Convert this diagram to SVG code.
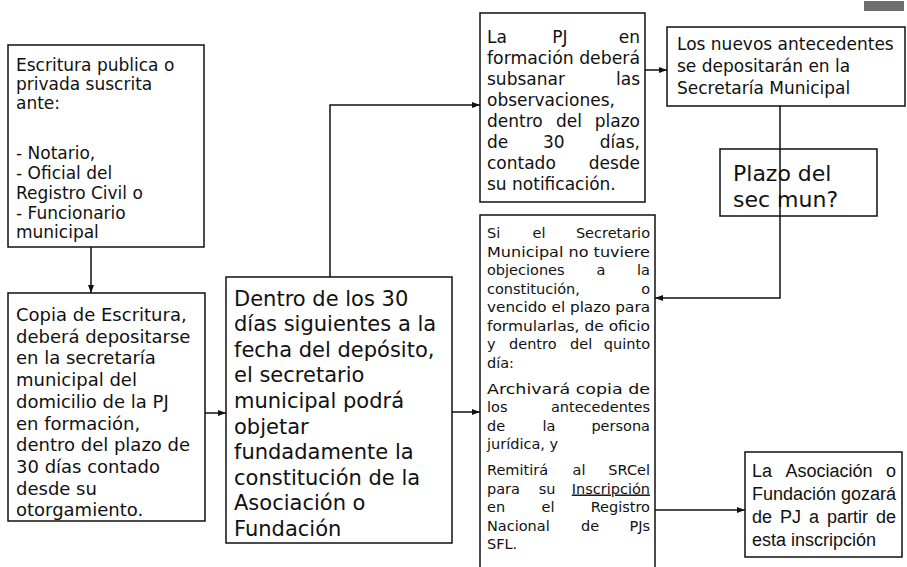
<svg xmlns="http://www.w3.org/2000/svg" width="907" height="567" viewBox="0 0 907 567">
<defs>
<marker id="ah" viewBox="0 0 8 6" refX="8" refY="3" markerWidth="8" markerHeight="6" markerUnits="userSpaceOnUse" orient="auto">
<path d="M0,0 L8,3 L0,6 Z" fill="#111"/>
</marker>
<style>
.box{fill:#fff;stroke:#111;stroke-width:1.5}
.t{font-family:"DejaVu Sans","Liberation Sans",sans-serif;fill:#111}
.ta{font-family:"Liberation Sans",Arial,sans-serif;fill:#111}
.f14{font-size:14.5px}.f17{font-size:17px}.f18{font-size:18px}.f21{font-size:21px}.f22{font-size:22px}
.e{text-anchor:end}.m{text-anchor:middle}
.c{fill:none;stroke:#111;stroke-width:1.5}
.ar{marker-end:url(#ah)}
</style>
</defs>
<rect width="907" height="567" fill="#fff"/>
<rect x="864" y="1" width="40" height="10" fill="#4a4a4a" opacity="0.8"/>

<g id="n1">
<rect class="box" x="8" y="45" width="196" height="202"/>
<text class="t f17">
<tspan x="16" y="71">Escritura publica o</tspan>
<tspan x="16" y="90">privada suscrita</tspan>
<tspan x="16" y="109">ante:</tspan>
<tspan x="16" y="159">- Notario,</tspan>
<tspan x="16" y="179">- Oficial del</tspan>
<tspan x="16" y="199">Registro Civil o</tspan>
<tspan x="16" y="219">- Funcionario</tspan>
<tspan x="16" y="238">municipal</tspan>
</text>
</g>

<g id="n2">
<rect class="box" x="8" y="293" width="197" height="228"/>
<text class="t f18">
<tspan x="16" y="321">Copia de Escritura,</tspan>
<tspan x="16" y="342.7">deberá depositarse</tspan>
<tspan x="16" y="364.4">en la secretaría</tspan>
<tspan x="16" y="386.1">municipal del</tspan>
<tspan x="16" y="407.8">domicilio de la PJ</tspan>
<tspan x="16" y="429.5">en formación,</tspan>
<tspan x="16" y="451.2">dentro del plazo de</tspan>
<tspan x="16" y="472.9">30 días contado</tspan>
<tspan x="16" y="494.6">desde su</tspan>
<tspan x="16" y="516.3">otorgamiento.</tspan>
</text>
</g>

<g id="n3">
<rect class="box" x="226" y="277" width="226" height="266"/>
<text class="t f21">
<tspan x="234" y="305.5">Dentro de los 30</tspan>
<tspan x="234" y="331.1">días siguientes a la</tspan>
<tspan x="234" y="356.7">fecha del depósito,</tspan>
<tspan x="234" y="382.3">el secretario</tspan>
<tspan x="234" y="407.9">municipal podrá</tspan>
<tspan x="234" y="433.5">objetar</tspan>
<tspan x="234" y="459.1">fundadamente la</tspan>
<tspan x="234" y="484.7">constitución de la</tspan>
<tspan x="234" y="510.3">Asociación o</tspan>
<tspan x="234" y="535.9">Fundación</tspan>
</text>
</g>

<g id="n4">
<rect class="box" x="480" y="13" width="165" height="189"/>
<g class="t f17">
<text x="487" y="43">La</text><text class="m" x="560" y="43">PJ</text><text class="e" x="640" y="43">en</text>
<text x="487" y="64" textLength="153" lengthAdjust="spacingAndGlyphs">formación deberá</text>
<text x="487" y="85">subsanar</text><text class="e" x="640" y="85">las</text>
<text x="487" y="106">observaciones,</text>
<text x="487" y="127">dentro</text><text x="556" y="127">del</text><text class="e" x="640" y="127">plazo</text>
<text x="487" y="148">de</text><text x="543" y="148">30</text><text class="e" x="640" y="148">días,</text>
<text x="487" y="169">contado</text><text class="e" x="640" y="169">desde</text>
<text x="487" y="190">su notificación.</text>
</g>
</g>

<g id="n5">
<rect class="box" x="667" y="27" width="238" height="79"/>
<text class="t f17">
<tspan x="677" y="50">Los nuevos antecedentes</tspan>
<tspan x="677" y="72">se depositarán en la</tspan>
<tspan x="677" y="94">Secretaría Municipal</tspan>
</text>
</g>

<g id="n6">
<rect class="box" x="720" y="149" width="157" height="67"/>
<text class="t f22">
<tspan x="733" y="181">Plazo del</tspan>
<tspan x="733" y="207">sec mun?</tspan>
</text>
</g>

<g id="n7">
<path class="c" d="M480,567 V215 H655 V567"/>
<g class="t f14">
<text x="487" y="238">Si</text><text class="m" x="539" y="238">el</text><text class="e" x="650" y="238">Secretario</text>
<text x="487" y="256.5" textLength="163" lengthAdjust="spacingAndGlyphs">Municipal no tuviere</text>
<text x="487" y="275">objeciones</text><text class="m" x="601" y="275">a</text><text class="e" x="650" y="275">la</text>
<text x="487" y="293.5">constitución,</text><text class="e" x="650" y="293.5">o</text>
<text x="487" y="312" textLength="163" lengthAdjust="spacingAndGlyphs">vencido el plazo para</text>
<text x="487" y="330.5" textLength="163" lengthAdjust="spacingAndGlyphs">formularlas, de oficio</text>
<text x="487" y="349">y</text><text x="509" y="349">dentro</text><text x="570" y="349">del</text><text class="e" x="650" y="349">quinto</text>
<text x="487" y="367.5">día:</text>
<text x="487" y="393.5" textLength="163" lengthAdjust="spacingAndGlyphs">Archivará copia de</text>
<text x="487" y="412">los</text><text class="e" x="650" y="412">antecedentes</text>
<text x="487" y="430.5">de</text><text class="m" x="549" y="430.5">la</text><text class="e" x="650" y="430.5">persona</text>
<text x="487" y="449">jurídica, y</text>
<text x="487" y="475">Remitirá</text><text class="m" x="579" y="475">al</text><text class="e" x="650" y="475">SRCel</text>
<text x="487" y="493.5">para</text><text class="m" x="547" y="493.5">su</text><text class="e" x="650" y="493.5" text-decoration="underline">Inscripción</text>
<text x="487" y="512">en</text><text class="m" x="548" y="512">el</text><text class="e" x="650" y="512">Registro</text>
<text x="487" y="530.5">Nacional</text><text class="m" x="590" y="530.5">de</text><text class="e" x="650" y="530.5">PJs</text>
<text x="487" y="549">SFL.</text>
</g>
</g>

<g id="n8">
<rect class="box" x="745" y="452" width="157" height="105"/>
<g class="ta f18">
<text x="752" y="477">La</text><text x="785.5" y="477">Asociación</text><text class="e" x="896" y="477">o</text>
<text x="752" y="500">Fundación</text><text class="e" x="896" y="500">gozará</text>
<text x="752" y="523">de</text><text x="780" y="523">PJ</text><text x="809" y="523">a</text><text x="827" y="523">partir</text><text class="e" x="896" y="523">de</text>
<text x="752" y="546">esta inscripción</text>
</g>
</g>

<g id="connectors">
<path class="c ar" d="M91,247 V293"/>
<path class="c ar" d="M205,413 H226"/>
<path class="c ar" d="M330,277 V105 H480"/>
<path class="c ar" d="M452,412 H480"/>
<path class="c ar" d="M645,70 H667"/>
<path class="c ar" d="M780,106 V298 H655"/>
<path class="c ar" d="M655,510 H745"/>
</g>
</svg>
